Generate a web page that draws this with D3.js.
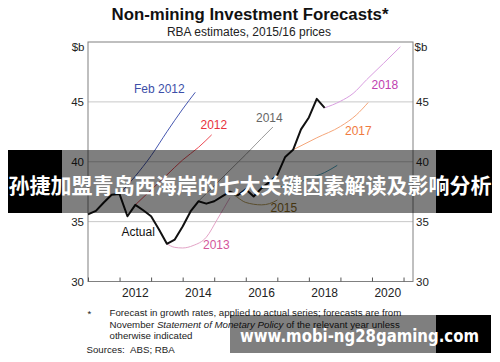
<!DOCTYPE html>
<html lang="en">

<head>
  <meta charset="UTF-8">
  <title>Non-mining Investment Forecasts</title>
  <script src="https://d3js.org/d3.v7.min.js"></script>
  <style>
    body { margin: 0; background: #fff; }
    svg { display: block; font-family: "Liberation Sans", Arial, sans-serif; }
  </style>
</head>

<body>
  <svg id="chart" width="500" height="362"></svg>
  <script>
    // tick labels
    let yTicks = [30, 35, 40, 45, 50];
    let yearTicks = [2011, 2012, 2013, 2014, 2015, 2016, 2017, 2018, 2019, 2020, 2021];
    let yearLabels = [2012, 2014, 2016, 2018, 2020];

    // actual series, quarterly
    let actualDates = [2011.0, 2011.25, 2011.5, 2011.75, 2012.0, 2012.25, 2012.5, 2012.75,
      2013.0, 2013.25, 2013.5, 2013.75, 2014.0, 2014.25, 2014.5, 2014.75, 2015.0, 2015.25,
      2015.5, 2015.75, 2016.0, 2016.25, 2016.5, 2016.75, 2017.0, 2017.25, 2017.5, 2017.75,
      2018.0, 2018.25, 2018.5];
    let actualValues = [35.6, 35.9, 36.6, 37.25, 37.3, 35.45, 36.4, 35.95,
      35.45, 34.35, 33.15, 33.5, 34.6, 35.85, 36.7, 36.5, 36.7, 37.1,
      37.5, 37.2, 37.7, 37.1, 37.8, 38.3, 38.9, 40.4, 41.0, 42.7,
      43.7, 45.25, 44.5];

    // forecasts: [date, value]
    let feb2012 = [[2012.0, 37.3], [2012.5, 38.8], [2013.0, 40.5], [2013.5, 42.5], [2014.0, 44.4], [2014.4, 45.8]];
    let fc2012 = [[2012.5, 36.4], [2013.0, 37.65], [2013.5, 38.9], [2014.0, 40.15], [2014.5, 41.2], [2014.92, 42.25]];
    let fc2013 = [[2013.5, 33.15], [2013.75, 32.85], [2014.0, 32.8], [2014.33, 33.0], [2014.75, 33.7], [2015.1, 35.2], [2015.5, 37.0]];
    let fc2014 = [[2014.5, 36.7], [2015.0, 38.0], [2015.5, 39.3], [2016.0, 40.6], [2016.5, 41.95], [2016.86, 42.9]];
    let fc2015 = [[2015.5, 37.5], [2015.75, 37.0], [2016.0, 36.6], [2016.5, 36.4], [2016.75, 36.5], [2017.0, 36.8]];
    let fc2016 = [[2016.5, 37.8], [2017.0, 37.9], [2017.5, 38.1], [2018.0, 38.6], [2018.5, 39.1], [2018.9, 39.7]];
    let fc2017 = [[2017.5, 41.0], [2018.25, 42.0], [2019.0, 42.95], [2019.5, 43.9], [2019.88, 44.95]];
    let fc2018 = [[2018.5, 44.5], [2019.0, 45.05], [2019.4, 45.7], [2019.83, 46.85], [2020.36, 48.2], [2020.9, 49.6]];

    let svg = d3.select('#chart');
    let plotLeft = 88, plotRight = 413, plotTop = 42, plotBottom = 281.5;

    let x = d3.scaleLinear().domain([2011, 2021.3]).range([plotLeft, plotRight]);
    let y = d3.scaleLinear().domain([30, 50]).range([plotBottom, plotTop]);

    svg.append('rect').attr('width', 500).attr('height', 362).attr('fill', '#fff');

    // titles
    svg.append('text').attr('x', 250).attr('y', 20).attr('text-anchor', 'middle')
      .attr('font-size', 16.8).attr('font-weight', 'bold').attr('fill', '#111')
      .text('Non-mining Investment Forecasts*');
    svg.append('text').attr('x', 249).attr('y', 36).attr('text-anchor', 'middle')
      .attr('font-size', 12).attr('fill', '#222')
      .text('RBA estimates, 2015/16 prices');

    // grid lines
    svg.append('g').selectAll('line')
      .data([35, 40, 45])
      .join('line')
      .attr('x1', plotLeft).attr('x2', plotRight)
      .attr('y1', function (d) { return y(d); })
      .attr('y2', function (d) { return y(d); })
      .attr('stroke', '#c8c8c8').attr('stroke-width', 1);

    // frame
    svg.append('rect').attr('x', plotLeft).attr('y', plotTop)
      .attr('width', plotRight - plotLeft).attr('height', plotBottom - plotTop)
      .attr('fill', 'none').attr('stroke', '#808080').attr('stroke-width', 1);

    // y axes (left and right), labels only
    let axisL = d3.axisLeft(y).tickValues(yTicks.slice(0, 4)).tickSize(0).tickPadding(4);
    let axisR = d3.axisRight(y).tickValues(yTicks.slice(0, 4)).tickSize(0).tickPadding(3);
    let gl = svg.append('g').attr('transform', 'translate(' + plotLeft + ',0)').call(axisL);
    let gr = svg.append('g').attr('transform', 'translate(' + plotRight + ',0)').call(axisR);
    [gl, gr].forEach(function (g) {
      g.select('.domain').remove();
      g.selectAll('text').attr('font-size', 11.5).attr('fill', '#222')
        .attr('font-family', '"Liberation Sans", Arial, sans-serif');
    });
    svg.append('text').attr('x', 84.5).attr('y', 50.5).attr('text-anchor', 'end')
      .attr('font-size', 11.5).attr('fill', '#222').text('$b');
    svg.append('text').attr('x', 414.5).attr('y', 50.5)
      .attr('font-size', 11.5).attr('fill', '#222').text('$b');

    // x axis: ticks at year boundaries, labels mid-year
    let axisB = d3.axisBottom(x).tickValues(yearTicks).tickSize(-4).tickFormat('');
    let gb = svg.append('g').attr('transform', 'translate(0,' + plotBottom + ')').call(axisB);
    gb.select('.domain').remove();
    gb.selectAll('line').attr('stroke', '#555');
    svg.append('g').selectAll('text')
      .data(yearLabels)
      .join('text')
      .attr('x', function (d) { return x(d + 0.5); })
      .attr('y', 297)
      .attr('text-anchor', 'middle')
      .attr('font-size', 12).attr('fill', '#222')
      .text(function (d) { return d; });

    // lines
    let line = d3.line()
      .x(function (d) { return x(d[0]); })
      .y(function (d) { return y(d[1]); })
      .curve(d3.curveMonotoneX);

    let forecasts = [
      { data: feb2012, color: '#4657b0' },
      { data: fc2012, color: '#ec4b55' },
      { data: fc2013, color: '#e3a3c6' },
      { data: fc2014, color: '#9a9a9a' },
      { data: fc2015, color: '#b39a5a' },
      { data: fc2016, color: '#4aa3bd' },
      { data: fc2017, color: '#f5a67a' },
      { data: fc2018, color: '#d99ee0' }
    ];

    svg.append('g').selectAll('path')
      .data(forecasts)
      .join('path')
      .attr('d', function (d) { return line(d.data); })
      .attr('fill', 'none')
      .attr('stroke', function (d) { return d.color; })
      .attr('stroke-width', 1);

    let actual = actualDates.map(function (d, i) { return [d, actualValues[i]]; });
    svg.append('path')
      .attr('d', d3.line()
        .x(function (d) { return x(d[0]); })
        .y(function (d) { return y(d[1]); })(actual))
      .attr('fill', 'none').attr('stroke', '#111').attr('stroke-width', 2)
      .attr('stroke-linejoin', 'round');

    // series labels
    let labels = [
      { text: 'Feb 2012', x: 134, y: 93, color: '#3d4fa8' },
      { text: '2012', x: 200.5, y: 129, color: '#e8323c' },
      { text: '2014', x: 256, y: 121.5, color: '#666' },
      { text: '2018', x: 371.5, y: 89, color: '#c040b0' },
      { text: '2017', x: 345, y: 134.5, color: '#f07a40' },
      { text: 'Actual', x: 121.5, y: 235.5, color: '#111' },
      { text: '2013', x: 203, y: 249, color: '#d4559a' },
      { text: '2015', x: 270.5, y: 211.5, color: '#8a6a20' }
    ];
    svg.append('g').selectAll('text')
      .data(labels)
      .join('text')
      .attr('x', function (d) { return d.x; })
      .attr('y', function (d) { return d.y; })
      .attr('font-size', 12)
      .attr('fill', function (d) { return d.color; })
      .text(function (d) { return d.text; });

    // footnotes
    let notes = [
      'Forecast in growth rates, applied to actual series; forecasts are from',
      null,
      'otherwise indicated'
    ];
    let fn = svg.append('g').attr('font-size', 9.7).attr('fill', '#222');
    fn.append('text').attr('x', 87.5).attr('y', 317).text('*');
    fn.append('text').attr('x', 109.5).attr('y', 315.7).text(notes[0]);
    let t2 = fn.append('text').attr('x', 109.5).attr('y', 327.5);
    t2.append('tspan').text('November ');
    t2.append('tspan').attr('font-style', 'italic').text('Statement of Monetary Policy');
    t2.append('tspan').text(' of the relevant year unless');
    fn.append('text').attr('x', 109.5).attr('y', 339.3).text(notes[2]);
    fn.append('text').attr('x', 86.5).attr('y', 353.3).text('Sources:');
    fn.append('text').attr('x', 130).attr('y', 353.3).text('ABS; RBA');

    // overlay banners
    svg.append('rect').attr('x', 8).attr('y', 150).attr('width', 54).attr('height', 63).attr('fill', '#000');
    svg.append('rect').attr('x', 62).attr('y', 150).attr('width', 374).attr('height', 63).attr('fill', 'rgba(0,0,0,0.5)');
    svg.append('rect').attr('x', 436).attr('y', 150).attr('width', 56).attr('height', 63).attr('fill', '#000');
    svg.append('text').attr('x', 250).attr('y', 193).attr('text-anchor', 'middle')
      .attr('font-family', '"Noto Sans CJK SC", sans-serif')
      .attr('font-size', 21).attr('font-weight', 'bold').attr('fill', '#fff')
      .text('孙捷加盟青岛西海岸的七大关键因素解读及影响分析');

    svg.append('rect').attr('x', 230).attr('y', 315).attr('width', 206).attr('height', 38).attr('fill', 'rgba(0,0,0,0.5)');
    svg.append('rect').attr('x', 436).attr('y', 315).attr('width', 55).attr('height', 38).attr('fill', '#000');
    svg.append('text').attr('x', 240).attr('y', 342)
      .attr('font-family', '"DejaVu Sans", sans-serif')
      .attr('font-size', 17).attr('font-weight', 'bold').attr('fill', '#fff')
      .attr('textLength', 239).attr('lengthAdjust', 'spacingAndGlyphs')
      .text('www.mobi-ng28gaming.com');
  </script>
</body>

</html>
